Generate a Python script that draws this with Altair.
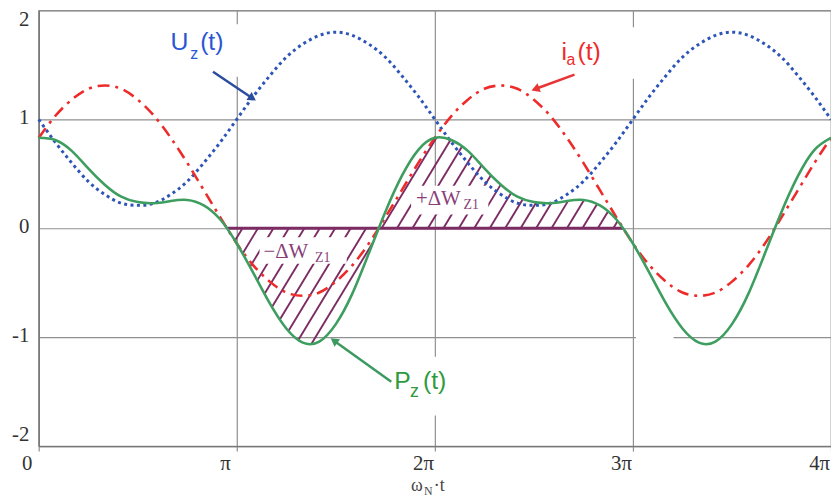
import math
import numpy as np
import pandas as pd
import altair as alt

# ---------------- data (x in multiples of pi, step pi/12) ----------------
t_pi = [k / 12 for k in range(49)]

uz = [1.00, 0.79, 0.60, 0.43, 0.31, 0.23, 0.21, 0.23, 0.31, 0.43, 0.60, 0.79,
      1.00, 1.21, 1.40, 1.57, 1.69, 1.77, 1.80, 1.77, 1.69, 1.57, 1.40, 1.21,
      1.00, 0.79, 0.60, 0.43, 0.31, 0.23, 0.21, 0.23, 0.31, 0.43, 0.60, 0.79,
      1.00, 1.21, 1.40, 1.57, 1.69, 1.77, 1.80, 1.77, 1.69, 1.57, 1.40, 1.21,
      1.00]

ia = [0.83, 1.03, 1.18, 1.28, 1.31, 1.28, 1.18, 1.03, 0.83, 0.60, 0.35, 0.10,
      -0.14, -0.34, -0.49, -0.59, -0.62, -0.59, -0.49, -0.34, -0.14, 0.10, 0.35, 0.60,
      0.83, 1.03, 1.18, 1.28, 1.31, 1.28, 1.18, 1.03, 0.83, 0.60, 0.35, 0.10,
      -0.14, -0.34, -0.49, -0.59, -0.62, -0.59, -0.49, -0.34, -0.14, 0.10, 0.35, 0.60,
      0.83]

pz = [0.83, 0.81, 0.71, 0.55, 0.40, 0.29, 0.24, 0.23, 0.25, 0.26, 0.21, 0.08,
      -0.14, -0.41, -0.69, -0.92, -1.05, -1.04, -0.88, -0.60, -0.23, 0.15, 0.48, 0.72,
      0.83, 0.81, 0.71, 0.55, 0.40, 0.29, 0.24, 0.23, 0.25, 0.26, 0.21, 0.08,
      -0.14, -0.41, -0.69, -0.92, -1.05, -1.04, -0.88, -0.60, -0.23, 0.15, 0.48, 0.72,
      0.83]

x_ticks = [0, 1, 2, 3, 4]
y_ticks = [-2, -1, 0, 1, 2]

# hatch family (slope in y-units per pi, spacing in pi, phase)
hatch_slope = 3.0
hatch_step = 0.078
hatch_phase = 1.809

# arrows: start -> tip (data coords)
arr_x = [0.88, 2.705, 1.78]
arr_y = [1.436, 1.41, -1.41]
arr_x2 = [1.09, 2.495, 1.48]
arr_y2 = [1.18, 1.27, -1.018]
arr_col = ["#2c4c9e", "#e83434", "#3a9a60"]

# white label boxes
box_x = [0.605, 2.58, 1.77, 1.88, 1.115, 3.015]
box_x2 = [1.055, 3.055, 2.08, 2.27, 1.555, 3.205]
box_y = [1.39, 1.373, -1.18, 0.127, -0.082, -0.963]
box_y2 = [1.873, 1.845, -1.72, 0.39, -0.327, -1.036]

# sans labels (curve names)
sl_x = [0.665, 0.765, 0.815, 2.64, 2.665, 2.72, 1.795, 1.875, 1.94]
sl_y = [1.636, 1.555, 1.636, 1.545, 1.50, 1.545, -1.473, -1.545, -1.473]
sl_t = ["U", "z", "(t)", "i", "a", "(t)", "P", "z", "(t)"]
sl_s = [25, 16, 25, 25, 16, 25, 25, 18, 25]
sl_c = ["#2a55d6", "#2a55d6", "#2a55d6", "#f02a2a", "#f02a2a", "#f02a2a",
        "#2f9a3c", "#2f9a3c", "#2f9a3c"]

# serif labels (areas and axis title)
rl_x = [1.905, 2.145, 1.135, 1.395, 1.88, 1.945, 1.995]
rl_y = [0.209, 0.173, -0.273, -0.309, -2.409, -2.445, -2.409]
rl_t = ["+ΔW", "Z1", "−ΔW", "Z1", "ω", "N", "·t"]
rl_s = [21, 14, 21, 14, 18, 12, 18]
rl_c = ["#8a3f7a", "#8a3f7a", "#8a3f7a", "#8a3f7a", "#444444", "#444444", "#444444"]

PX_PER_X = 200.0   # pixels per pi
PX_PER_Y = 110.0   # pixels per unit

# ---------------- natural spline (same as d3 curveNatural) ----------------
def natural_spline(y):
    y = np.asarray(y, float)
    n = len(y)
    A = np.zeros((n, n))
    r = np.zeros(n)
    A[0, 0] = A[-1, -1] = 1.0
    for i in range(1, n - 1):
        A[i, i - 1] = 1.0
        A[i, i] = 4.0
        A[i, i + 1] = 1.0
        r[i] = 6.0 * (y[i + 1] - 2 * y[i] + y[i - 1])
    M = np.linalg.solve(A, r)

    def f(s):
        s = np.asarray(s, float)
        i = np.clip(np.floor(s).astype(int), 0, n - 2)
        u = s - i
        return ((1 - u) * y[i] + u * y[i + 1]
                + ((1 - u) ** 3 - (1 - u)) * M[i] / 6 + (u ** 3 - u) * M[i + 1] / 6)
    return f

pz_f = natural_spline(pz)
xs = np.linspace(0, 4, 16001)
P = pz_f(xs * 12)

# zero crossings bounding the hatched region
sgn = np.sign(P)
cross = [xs[i] for i in range(len(xs) - 1) if sgn[i] > 0 and sgn[i + 1] <= 0]
a = [c for c in cross if 0.7 < c < 1.3][0]
b = [c for c in cross if 2.7 < c < 3.3][0]

def runs(mask):
    d = np.diff(mask.astype(int))
    starts = list(np.where(d == 1)[0] + 1)
    ends = list(np.where(d == -1)[0])
    if mask[0]:
        starts = [0] + starts
    if mask[-1]:
        ends = ends + [len(mask) - 1]
    return list(zip(starts, ends))

hatch = []
j0 = int(math.floor((a - 0.6 - hatch_phase) / hatch_step))
j1 = int(math.ceil((b + 0.6 - hatch_phase) / hatch_step))
for j in range(j0, j1 + 1):
    x0 = hatch_phase + j * hatch_step
    yl = hatch_slope * (xs - x0)
    inside = (xs >= a) & (xs <= b) & (
        ((P <= 0) & (yl <= 0) & (yl >= P)) | ((P >= 0) & (yl >= 0) & (yl <= P)))
    for s, e in runs(inside):
        if e - s < 3:
            continue
        hatch.append({"x": xs[s], "y": yl[s], "x2": xs[e], "y2": yl[e]})
hatch_df = pd.DataFrame(hatch)

# ---------------- shared encodings ----------------
xscale = alt.Scale(domain=[0, 4], nice=False, zero=False)
yscale = alt.Scale(domain=[-2, 2], nice=False, zero=False)
xaxis = alt.Axis(values=x_ticks, title=None, grid=True,
                 labelExpr="datum.value == 0 ? '0' : (datum.value == 1 ? 'π' : datum.value + 'π')",
                 labelOffset=-12, labelFlush=False, labelPadding=2,
                 ticks=True, tickSize=5)
yaxis = alt.Axis(values=y_ticks, title=None, grid=True,
                 labelExpr="datum.value < 0 ? '-' + abs(datum.value) : '' + datum.value",
                 labelFlush=True, labelOffset=-2, labelPadding=10, ticks=False)

X = alt.X("x:Q", scale=xscale, axis=xaxis)
Y = alt.Y("y:Q", scale=yscale, axis=yaxis)

curves = pd.DataFrame({"x": t_pi, "uz": uz, "ia": ia, "pz": pz})

hatch_layer = alt.Chart(hatch_df).mark_rule(color="#7c2b63", strokeWidth=1.9).encode(
    x=X, y=Y, x2="x2:Q", y2="y2:Q")

boxes = pd.DataFrame({"x": box_x, "x2": box_x2, "y": box_y, "y2": box_y2})
box_layer = alt.Chart(boxes).mark_rect(color="white").encode(
    x=X, y=Y, x2="x2:Q", y2="y2:Q")

base_df = pd.DataFrame({"x": [a], "x2": [b], "y": [0.0]})
base_layer = alt.Chart(base_df).mark_rule(color="#7c2b63", strokeWidth=3.2).encode(
    x=X, x2="x2:Q", y=Y)

uz_layer = alt.Chart(curves).mark_line(
    color="#2d55b8", strokeWidth=3, strokeDash=[3, 3.5], interpolate="natural").encode(
    x=X, y=alt.Y("uz:Q", scale=yscale, axis=yaxis))
ia_layer = alt.Chart(curves).mark_line(
    color="#ee2b2b", strokeWidth=2.6, strokeDash=[12, 6, 3, 6], interpolate="natural").encode(
    x=X, y=alt.Y("ia:Q", scale=yscale, axis=yaxis))
pz_layer = alt.Chart(curves).mark_line(
    color="#3d9e5f", strokeWidth=2.6, interpolate="natural").encode(
    x=X, y=alt.Y("pz:Q", scale=yscale, axis=yaxis))

# arrows
arr_rows = []
head_rows = []
for i in range(len(arr_x)):
    dxp = (arr_x2[i] - arr_x[i]) * PX_PER_X
    dyp = -(arr_y2[i] - arr_y[i]) * PX_PER_Y
    L = math.hypot(dxp, dyp)
    ux, uy = dxp / L, dyp / L
    ang = math.degrees(math.atan2(dxp, -dyp)) % 360
    back = 4.0
    hx = arr_x2[i] - back * ux / PX_PER_X
    hy = arr_y2[i] + back * uy / PX_PER_Y
    arr_rows.append({"x": arr_x[i], "y": arr_y[i], "x2": hx, "y2": hy, "c": arr_col[i]})
    head_rows.append({"x": hx, "y": hy, "ang": ang, "c": arr_col[i]})
arr_df = pd.DataFrame(arr_rows)
head_df = pd.DataFrame(head_rows)

arrow_layer = alt.Chart(arr_df).mark_rule(strokeWidth=2.5).encode(
    x=X, y=Y, x2="x2:Q", y2="y2:Q", color=alt.Color("c:N", scale=None))
head_layer = alt.Chart(head_df).mark_point(shape="triangle", filled=True, size=90, opacity=1).encode(
    x=X, y=Y, angle=alt.Angle("ang:Q", scale=None), color=alt.Color("c:N", scale=None))

sans_df = pd.DataFrame({"x": sl_x, "y": sl_y, "t": sl_t, "s": sl_s, "c": sl_c})
sans_layer = alt.Chart(sans_df).mark_text(
    align="left", baseline="alphabetic", font="Liberation Sans").encode(
    x=X, y=Y, text="t:N", size=alt.Size("s:Q", scale=None),
    color=alt.Color("c:N", scale=None))

serif_df = pd.DataFrame({"x": rl_x, "y": rl_y, "t": rl_t, "s": rl_s, "c": rl_c})
serif_layer = alt.Chart(serif_df).mark_text(
    align="left", baseline="alphabetic", font="Liberation Serif").encode(
    x=X, y=Y, text="t:N", size=alt.Size("s:Q", scale=None),
    color=alt.Color("c:N", scale=None))

chart = alt.layer(
    hatch_layer, box_layer, base_layer, uz_layer, ia_layer, pz_layer,
    arrow_layer, head_layer, sans_layer, serif_layer
).properties(
    width=800, height=440,
    autosize=alt.AutoSizeParams(type="none"),
    padding={"left": 31, "top": 0, "right": 0, "bottom": 51},
).configure_view(
    stroke="#8f8f8f", strokeWidth=1.2
).configure_axis(
    gridColor="#8f8f8f", gridWidth=1.2, gridOpacity=1,
    domainColor="#777777", domainWidth=1.4,
    tickColor="#8f8f8f", tickWidth=1.2,
    labelFont="Liberation Serif", labelFontSize=21, labelColor="#333333",
)

chart.save("out.html", embed_options={"renderer": "svg", "actions": False})
